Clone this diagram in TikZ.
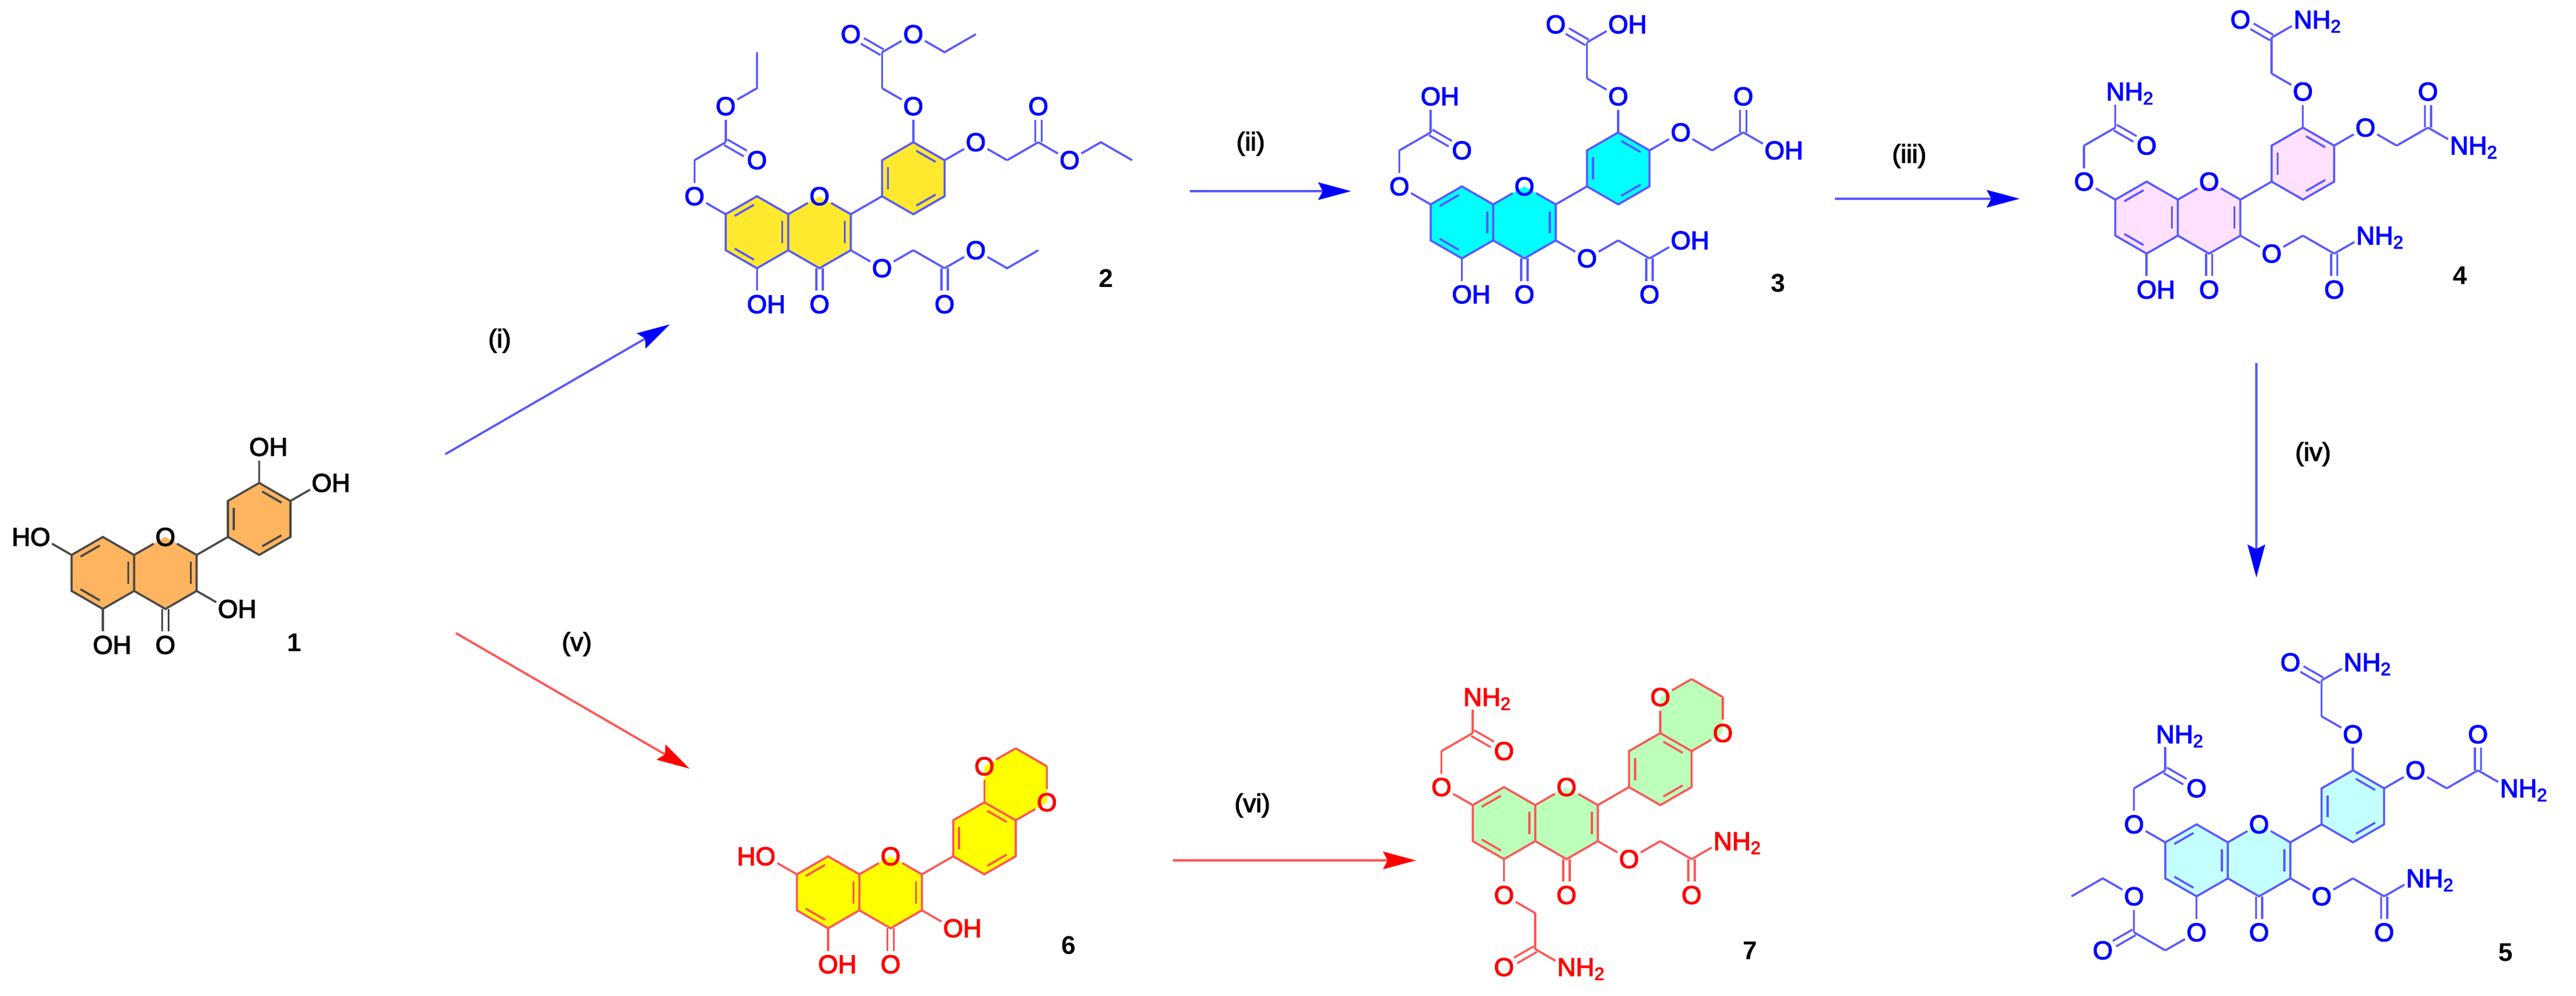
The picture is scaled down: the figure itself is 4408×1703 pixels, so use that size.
\documentclass[tikz,border=0pt]{standalone}
\usepackage{fontspec}
\setmainfont{Liberation Sans}
\newfontfamily\chemfont[FakeBold=3]{Liberation Sans}
\usetikzlibrary{arrows.meta, calc}

\definecolor{inkblue}{RGB}{0,0,255}
\definecolor{inkred}{RGB}{255,0,0}
\definecolor{bondblue}{RGB}{88,88,255}
\definecolor{bondred}{RGB}{255,84,84}
\definecolor{bondblack}{RGB}{72,72,72}
\definecolor{fillorange}{RGB}{255,180,95}
\definecolor{fillgold}{RGB}{255,233,46}
\definecolor{fillcyan}{RGB}{0,255,255}
\definecolor{fillpink}{RGB}{255,224,255}
\definecolor{fillaqua}{RGB}{196,255,255}
\definecolor{fillyellow}{RGB}{255,255,0}
\definecolor{fillgreen}{RGB}{187,255,187}

\tikzset{
    molecule/.style n args={6}{shift={(#1,#2)}, x=5.35mm, y=-3.08mm, name prefix=#3_,
        /utils/exec={\colorlet{bondcol}{#4}\colorlet{ringcol}{#5}\colorlet{atomcol}{#6}}},
    bond/.style={line width=1pt, color=bondcol},
    carbonyl/.style={bond, double=white, double distance=2.1pt},
    atom/.style={circle, inner sep=0pt, outer sep=0pt, text=atomcol, font=\chemfont\fontsize{12.5}{12.5}\selectfont},
    steplabel/.style={inner sep=0pt, text=black, font=\chemfont\fontsize{12.5}{12.5}\selectfont},
    compound/.style={inner sep=0pt, text=black, font=\fontsize{12.5}{12.5}\selectfont\bfseries},
    rxnblue/.style={-{Stealth[length=16pt, width=8.5pt, inset=2.2pt, color=inkblue]}, line width=1.05pt, color=bondblue},
    rxnred/.style={-{Stealth[length=16pt, width=8.5pt, inset=2.2pt, color=inkred]}, line width=1.05pt, color=bondred}
}

\newcommand{\hydroxy}{O\rlap{H}}
\newcommand{\hydroxyleft}{\llap{H}O}
\newcommand{\amide}{N\rlap{\smash{H\textsubscript{2}}}}

\newcommand{\flavone}[1][]{
    \foreach \nam/\i/\j in {c8/0/0, c8a/1/1, c4a/1/3, c5/0/4, c6/-1/3, c7/-1/1, py/2/0, c2/3/1, c3/3/3, c4/2/4,
        b1/4/0, b2/4/-2, b3/5/-3, b4/6/-2, b5/6/0, b6/5/1, ca/0/2, cc/2/2, cb/5/-1}
        \coordinate (\nam) at (\i,\j);
    #1
    \fill[ringcol] (c7) -- (c8) -- (c8a) -- (py) -- (c2) -- (c3) -- (c4) -- (c4a) -- (c5) -- (c6) -- cycle;
    \fill[ringcol] (b1) -- (b2) -- (b3) -- (b4) -- (b5) -- (b6) -- cycle;
    \node[atom] (o1) at (2,0) {O};
    \node[atom] (o4) at (2,6) {O};
    \draw[carbonyl] (c4) -- (o4);
    \draw[bond] (c7) -- (c8) -- (c8a) -- (c4a) -- (c5) -- (c6) -- cycle;
    \draw[bond] (c2) -- (c3) -- (c4) -- (c4a);
    \draw[bond] (b1) -- (b2) -- (b3) -- (b4) -- (b5) -- (b6) -- cycle;
    \path[bond] (c8a) edge (o1) (o1) edge (c2) (c2) edge (b1);
    \foreach \p/\q/\r in {c8/c7/ca, c6/c5/ca, c8a/c4a/ca, c2/c3/cc, b3/b4/cb, b2/b1/cb, b6/b5/cb}
        \draw[bond] ($(\p)!.12!(\q)!.19!(\r)$) -- ($(\q)!.12!(\p)!.19!(\r)$);
}

\newcommand{\dioxane}{
    \coordinate (d1) at (5,-5);
    \coordinate (d2) at (6,-6);
    \coordinate (d3) at (7,-5);
    \coordinate (d4) at (7,-3);
    \fill[ringcol] (b3) -- (d1) -- (d2) -- (d3) -- (d4) -- (b4) -- cycle;
    \node[atom] (o3p) at (d1) {O};
    \node[atom] (o4p) at (d4) {O};
    \path[bond] (b3) edge (o3p) (o3p) edge (d2) (d2) edge (d3) (d3) edge (o4p) (o4p) edge (b4);
}

\newcommand{\sidechain}[8]{
    \node[atom] (#1o) at (#3) {O};
    \coordinate (#1h) at (#4);
    \coordinate (#1c) at (#5);
    \node[atom] (#1d) at (#6) {O};
    \node[atom] (#1t) at (#7) {#8};
    \draw[carbonyl] (#1c) -- (#1d);
    \path[bond] (#2) edge (#1o) (#1o) edge (#1h) (#1h) edge (#1c) (#1c) edge (#1t);
}
\newcommand{\chainseven}[1]{\sidechain{s7}{c7}{-2,0}{-2,-2}{-1,-3}{0,-2}{-1,-5}{#1}}
\newcommand{\chainthreep}[1]{\sidechain{s3p}{b3}{5,-5}{4,-6}{4,-8}{3,-9}{5,-9}{#1}}
\newcommand{\chainfourp}[1]{\sidechain{s4p}{b4}{7,-3}{8,-2}{9,-3}{9,-5}{10,-2}{#1}}
\newcommand{\chainthree}[1]{\sidechain{s3}{c3}{4,4}{5,3}{6,4}{6,6}{7,3}{#1}}
\newcommand{\ethyl}[3]{
    \coordinate (#1e1) at (#2);
    \coordinate (#1e2) at (#3);
    \draw[bond] (#1t) -- (#1e1) -- (#1e2);
}

\begin{document}
\begin{tikzpicture}[x=.1mm, y=-.1mm]
    \useasboundingbox (0,0) rectangle (4408,1703);

    \begin{scope}[molecule={176}{918.6}{m1}{bondblack}{fillorange}{black}]
        \flavone
        \node[atom] (oh7) at (-2,0) {\hydroxyleft};
        \node[atom] (oh5) at (0,6) {\hydroxy};
        \node[atom] (oh3) at (4,4) {\hydroxy};
        \node[atom] (oh3p) at (5,-5) {\hydroxy};
        \node[atom] (oh4p) at (7,-3) {\hydroxy};
        \path[bond] (c7) edge (oh7) (c5) edge (oh5) (c3) edge (oh3) (b3) edge (oh3p) (b4) edge (oh4p);
    \end{scope}

    \begin{scope}[molecule={1295.3}{335.7}{m2}{bondblue}{fillgold}{inkblue}]
        \flavone
        \node[atom] (oh5) at (0,6) {\hydroxy};
        \path[bond] (c5) edge (oh5);
        \chainseven{O}
        \chainthreep{O}
        \chainfourp{O}
        \chainthree{O}
        \ethyl{s7}{0,-6}{0,-8}
        \ethyl{s3p}{6,-8}{7,-9}
        \ethyl{s4p}{11,-3}{12,-2}
        \ethyl{s3}{8,4}{9,3}
    \end{scope}

    \begin{scope}[molecule={2501.6}{318.9}{m3}{bondblue}{fillcyan}{inkblue}]
        \flavone
        \node[atom] (oh5) at (0,6) {\hydroxy};
        \path[bond] (c5) edge (oh5);
        \chainseven{\hydroxy}
        \chainthreep{\hydroxy}
        \chainfourp{\hydroxy}
        \chainthree{\hydroxy}
    \end{scope}

    \begin{scope}[molecule={3673.2}{310.7}{m4}{bondblue}{fillpink}{inkblue}]
        \flavone
        \node[atom] (oh5) at (0,6) {\hydroxy};
        \path[bond] (c5) edge (oh5);
        \chainseven{\amide}
        \chainthreep{\amide}
        \chainfourp{\amide}
        \chainthree{\amide}
    \end{scope}

    \begin{scope}[molecule={3758.7}{1410.3}{m5}{bondblue}{fillaqua}{inkblue}]
        \flavone
        \chainseven{\amide}
        \chainthreep{\amide}
        \chainfourp{\amide}
        \chainthree{\amide}
        \sidechain{s5}{c5}{0,6}{-1,7}{-2,6}{-3,7}{-2,4}{O}
        \ethyl{s5}{-3,3}{-4,4}
    \end{scope}

    \begin{scope}[molecule={1417}{1465}{m6}{bondred}{fillyellow}{inkred}]
        \flavone[\dioxane]
        \node[atom] (oh7) at (-2,0) {\hydroxyleft};
        \node[atom] (oh5) at (0,6) {\hydroxy};
        \node[atom] (oh3) at (4,4) {\hydroxy};
        \path[bond] (c7) edge (oh7) (c5) edge (oh5) (c3) edge (oh3);
    \end{scope}

    \begin{scope}[molecule={2573.6}{1346.6}{m7}{bondred}{fillgreen}{inkred}]
        \flavone[\dioxane]
        \chainseven{\amide}
        \chainthree{\amide}
        \sidechain{s5}{c5}{0,6}{1,7}{1,9}{0,10}{2,10}{\amide}
    \end{scope}

    \node[compound] (cmpd_1) at (504,1099) {1};
    \node[compound] (cmpd_2) at (1893,476) {2};
    \node[compound] (cmpd_3) at (3043,484) {3};
    \node[compound] (cmpd_4) at (4210,471) {4};
    \node[compound] (cmpd_5) at (4288,1630) {5};
    \node[compound] (cmpd_6) at (1829,1617) {6};
    \node[compound] (cmpd_7) at (2995,1626) {7};

    \coordinate (i_from) at (762,777);
    \coordinate (i_to) at (1146,555);
    \coordinate (ii_from) at (2036,327);
    \coordinate (ii_to) at (2312,327);
    \coordinate (iii_from) at (3140,340);
    \coordinate (iii_to) at (3456,340);
    \coordinate (iv_from) at (3861,621);
    \coordinate (iv_to) at (3861,988);
    \coordinate (v_from) at (780,1083);
    \coordinate (v_to) at (1180,1315);
    \coordinate (vi_from) at (2007,1472);
    \coordinate (vi_to) at (2423,1472);

    \path[rxnblue]
    (i_from) edge (i_to)
    (ii_from) edge (ii_to)
    (iii_from) edge (iii_to)
    (iv_from) edge (iv_to);
    \path[rxnred]
    (v_from) edge (v_to)
    (vi_from) edge (vi_to);

    \node[steplabel] (step_i) at (855,583) {(i)};
    \node[steplabel] (step_ii) at (2140,246) {(ii)};
    \node[steplabel] (step_iii) at (3267,267) {(iii)};
    \node[steplabel] (step_iv) at (3958,777) {(iv)};
    \node[steplabel] (step_v) at (987,1102) {(v)};
    \node[steplabel] (step_vi) at (2143,1378) {(vi)};
\end{tikzpicture}
\end{document}
